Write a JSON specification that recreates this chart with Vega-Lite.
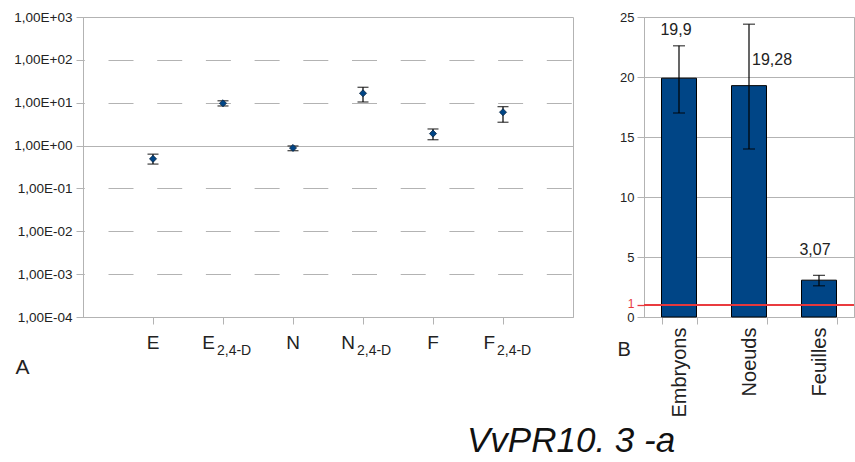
{
  "$schema": "https://vega.github.io/schema/vega-lite/v6.json",
  "background": "white",
  "padding": {"left": 13, "top": 9, "right": 0, "bottom": 0},
  "bounds": "flush",
  "spacing": 71,
  "config": {
    "font": "Liberation Sans",
    "view": {"stroke": "#b3b3b3", "strokeWidth": 1}
  },
  "title": {
    "text": "VvPR10. 3 -a",
    "orient": "bottom",
    "anchor": "start",
    "frame": "group",
    "dx": 384,
    "offset": 6,
    "font": "Liberation Sans",
    "fontSize": 35,
    "fontStyle": "italic",
    "fontWeight": "normal",
    "color": "#111111"
  },
  "hconcat": [
    {
      "width": 490,
      "height": 300,
      "data": {
        "values": [
          {"cat": "E", "letter": "E", "sub": "", "value": 0.49, "lower": 0.37, "upper": 0.63},
          {"cat": "E24D", "letter": "E", "sub": "2,4-D", "value": 9.7, "lower": 8.4, "upper": 11.1},
          {"cat": "N", "letter": "N", "sub": "", "value": 0.88, "lower": 0.76, "upper": 0.98},
          {"cat": "N24D", "letter": "N", "sub": "2,4-D", "value": 16.6, "lower": 10.4, "upper": 22.9},
          {"cat": "F", "letter": "F", "sub": "", "value": 1.9, "lower": 1.37, "upper": 2.44},
          {"cat": "F24D", "letter": "F", "sub": "2,4-D", "value": 6.0, "lower": 3.5, "upper": 8.1}
        ]
      },
      "layer": [
        {
          "mark": {"type": "rule", "color": "black", "strokeWidth": 1.2},
          "encoding": {
            "x": {
              "field": "cat", "type": "nominal", "sort": null, "title": null,
              "scale": {"type": "point", "padding": 1},
              "axis": {"labels": false, "ticks": true, "tickSize": 7, "tickColor": "#b3b3b3", "domainColor": "#b3b3b3", "grid": false, "title": null}
            },
            "y": {
              "field": "lower", "type": "quantitative", "title": "A",
              "scale": {"type": "log", "domain": [0.0001, 1000], "nice": false},
              "axis": {
                "values": [0.0001, 0.001, 0.01, 0.1, 1, 10, 100, 1000],
                "labelExpr": "'1,00E' + (datum.value >= 1 ? '+' : '-') + '0' + format(abs(round(log(datum.value) / LN10)), 'd')",
                "labelFontSize": 13.5,
                "labelColor": "#222222",
                "labelPadding": 4,
                "tickSize": 7,
                "tickColor": "#b3b3b3",
                "domainColor": "#b3b3b3",
                "grid": true,
                "gridColor": "#b3b3b3",
                "gridWidth": 1.2,
                "gridDash": {"condition": {"test": "datum.value == 1", "value": []}, "value": [25, 23.7]},
                "gridDashOffset": 23.7,
                "title": "A",
                "titleAngle": 0,
                "titleX": -68,
                "titleY": 356,
                "titleAlign": "left",
                "titleBaseline": "alphabetic",
                "titleFontSize": 21,
                "titleFontWeight": "normal",
                "titleColor": "#222222"
              }
            },
            "y2": {"field": "upper"}
          }
        },
        {
          "mark": {"type": "tick", "color": "black", "size": 11, "thickness": 1.3},
          "encoding": {
            "x": {"field": "cat", "type": "nominal", "sort": null, "title": null},
            "y": {"field": "lower", "type": "quantitative", "title": "A"}
          }
        },
        {
          "mark": {"type": "tick", "color": "black", "size": 11, "thickness": 1.3},
          "encoding": {
            "x": {"field": "cat", "type": "nominal", "sort": null, "title": null},
            "y": {"field": "upper", "type": "quantitative", "title": "A"}
          }
        },
        {
          "mark": {"type": "point", "shape": "diamond", "filled": true, "size": 50, "color": "#004586", "opacity": 1, "stroke": "#0a2540", "strokeWidth": 0.8},
          "encoding": {
            "x": {"field": "cat", "type": "nominal", "sort": null, "title": null},
            "y": {"field": "value", "type": "quantitative", "title": "A"}
          }
        },
        {
          "transform": [{"filter": "datum.sub == ''"}],
          "mark": {"type": "text", "fontSize": 19, "align": "center", "baseline": "alphabetic", "dy": 32, "color": "#222222"},
          "encoding": {
            "x": {"field": "cat", "type": "nominal", "sort": null, "title": null},
            "y": {"datum": 0.0001},
            "text": {"field": "letter"}
          }
        },
        {
          "transform": [{"filter": "datum.sub != ''"}],
          "mark": {"type": "text", "fontSize": 19, "align": "right", "baseline": "alphabetic", "dx": -8, "dy": 32, "color": "#222222"},
          "encoding": {
            "x": {"field": "cat", "type": "nominal", "sort": null, "title": null},
            "y": {"datum": 0.0001},
            "text": {"field": "letter"}
          }
        },
        {
          "transform": [{"filter": "datum.sub != ''"}],
          "mark": {"type": "text", "fontSize": 14, "align": "left", "baseline": "alphabetic", "dx": -6, "dy": 38, "color": "#222222"},
          "encoding": {
            "x": {"field": "cat", "type": "nominal", "sort": null, "title": null},
            "y": {"datum": 0.0001},
            "text": {"field": "sub"}
          }
        }
      ]
    },
    {
      "width": 210,
      "height": 300,
      "data": {
        "values": [
          {"tissue": "Embryons", "value": 19.9, "lower": 17.0, "upper": 22.6, "label": "19,9"},
          {"tissue": "Noeuds", "value": 19.28, "lower": 14.0, "upper": 24.4, "label": "19,28"},
          {"tissue": "Feuilles", "value": 3.07, "lower": 2.6, "upper": 3.47, "label": "3,07"}
        ]
      },
      "layer": [
        {
          "mark": {"type": "bar", "color": "#004586", "stroke": "black", "strokeWidth": 1},
          "encoding": {
            "x": {
              "field": "tissue", "type": "nominal", "sort": null, "title": null,
              "scale": {"paddingInner": 0.5, "paddingOuter": 0.25},
              "axis": {
                "labelAngle": 270,
                "labelFontSize": 20,
                "labelColor": "#222222",
                "labelPadding": 3,
                "tickSize": 7,
                "tickBand": "extent",
                "tickColor": "#b3b3b3",
                "domainColor": "#b3b3b3",
                "title": null
              }
            },
            "y": {
              "field": "value", "type": "quantitative", "title": "B",
              "scale": {"domain": [0, 25], "nice": false},
              "axis": {
                "values": [0, 1, 5, 10, 15, 20, 25],
                "labelFontSize": {"condition": {"test": "datum.value == 1", "value": 12}, "value": 13},
                "labelColor": {"condition": {"test": "datum.value == 1", "value": "#e8393c"}, "value": "#222222"},
                "labelOffset": {"condition": {"test": "datum.value == 1", "value": -2}, "value": 0},
                "labelPadding": 3,
                "tickSize": 7,
                "tickColor": {"condition": {"test": "datum.value == 1", "value": "#e8393c"}, "value": "#b3b3b3"},
                "tickWidth": {"condition": {"test": "datum.value == 1", "value": 1.3}, "value": 1},
                "domainColor": "#b3b3b3",
                "grid": true,
                "gridColor": "#b3b3b3",
                "gridWidth": 1.2,
                "gridOpacity": {"condition": {"test": "datum.value == 1", "value": 0}, "value": 1},
                "title": "B",
                "titleAngle": 0,
                "titleX": -27,
                "titleY": 338,
                "titleAlign": "left",
                "titleBaseline": "alphabetic",
                "titleFontSize": 20,
                "titleFontWeight": "normal",
                "titleColor": "#222222"
              }
            }
          }
        },
        {
          "mark": {"type": "rule", "color": "black", "strokeWidth": 1.2},
          "encoding": {
            "x": {"field": "tissue", "type": "nominal", "sort": null, "title": null},
            "y": {"field": "lower", "type": "quantitative", "title": "B"},
            "y2": {"field": "upper"}
          }
        },
        {
          "mark": {"type": "tick", "color": "black", "size": 12, "thickness": 1.3},
          "encoding": {
            "x": {"field": "tissue", "type": "nominal", "sort": null, "title": null},
            "y": {"field": "lower", "type": "quantitative", "title": "B"}
          }
        },
        {
          "mark": {"type": "tick", "color": "black", "size": 12, "thickness": 1.3},
          "encoding": {
            "x": {"field": "tissue", "type": "nominal", "sort": null, "title": null},
            "y": {"field": "upper", "type": "quantitative", "title": "B"}
          }
        },
        {
          "mark": {"type": "rule", "color": "#e8393c", "strokeWidth": 1.3},
          "encoding": {
            "y": {"datum": 1}
          }
        },
        {
          "transform": [{"filter": "datum.tissue == 'Embryons'"}],
          "mark": {"type": "text", "fontSize": 16, "baseline": "middle", "align": "center", "dx": -3, "dy": -48, "color": "#222222"},
          "encoding": {
            "x": {"field": "tissue", "type": "nominal", "sort": null, "title": null},
            "y": {"field": "value", "type": "quantitative", "title": "B"},
            "text": {"field": "label"}
          }
        },
        {
          "transform": [{"filter": "datum.tissue == 'Noeuds'"}],
          "mark": {"type": "text", "fontSize": 16, "baseline": "middle", "align": "center", "dx": 23, "dy": -26, "color": "#222222"},
          "encoding": {
            "x": {"field": "tissue", "type": "nominal", "sort": null, "title": null},
            "y": {"field": "value", "type": "quantitative", "title": "B"},
            "text": {"field": "label"}
          }
        },
        {
          "transform": [{"filter": "datum.tissue == 'Feuilles'"}],
          "mark": {"type": "text", "fontSize": 16, "baseline": "middle", "align": "center", "dx": -4, "dy": -30, "color": "#222222"},
          "encoding": {
            "x": {"field": "tissue", "type": "nominal", "sort": null, "title": null},
            "y": {"field": "value", "type": "quantitative", "title": "B"},
            "text": {"field": "label"}
          }
        }
      ]
    }
  ]
}
